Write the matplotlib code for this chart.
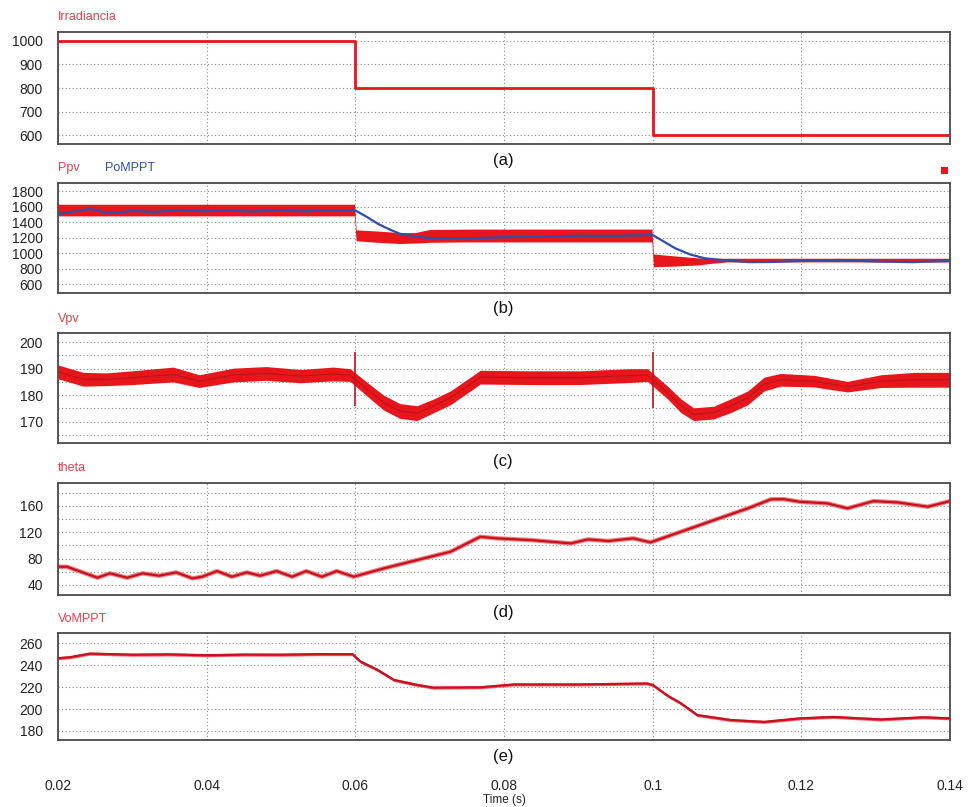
import matplotlib
matplotlib.use("Agg")
import matplotlib.pyplot as plt
from matplotlib.patches import Rectangle
import numpy as np

plt.rcParams['font.family'] = ['Liberation Sans', 'DejaVu Sans']

RED = '#e8161b'
BLUE = '#2f4fa8'
LBL_RED = '#e2414a'
GRID = '#8a8a8a'

# ---------------- data ----------------
# (a) irradiance (step)
irr_t = [0.02, 0.06, 0.06, 0.10, 0.10, 0.14]
irr_v = [1000, 1000, 800, 800, 600, 600]

# (b) Ppv ripple envelope and PoMPPT
ppv_t = [0.02, 0.0599, 0.0601, 0.063, 0.066, 0.068, 0.070, 0.075, 0.0999, 0.1001, 0.103, 0.106, 0.108, 0.11, 0.14]
ppv_hi = [1630, 1630, 1300, 1285, 1265, 1265, 1305, 1310, 1310, 990, 965, 940, 935, 935, 935]
ppv_lo = [1480, 1480, 1160, 1140, 1125, 1130, 1140, 1145, 1145, 825, 835, 848, 870, 888, 888]

po_t = [0.02, 0.022, 0.0243, 0.027, 0.030, 0.033, 0.036, 0.040, 0.043, 0.046, 0.050,
        0.053, 0.056, 0.060, 0.0615, 0.063, 0.0645, 0.066, 0.068, 0.070, 0.075, 0.080,
        0.085, 0.090, 0.095, 0.100, 0.1015, 0.103, 0.105, 0.107, 0.110, 0.113, 0.116,
        0.120, 0.125, 0.130, 0.135, 0.14]
po_v = [1505, 1534, 1569, 1513, 1545, 1530, 1555, 1540, 1552, 1535, 1556,
        1538, 1552, 1550, 1470, 1380, 1310, 1250, 1215, 1195, 1192, 1205,
        1212, 1225, 1222, 1234, 1150, 1065, 985, 935, 905, 885, 887,
        900, 913, 893, 885, 900]

# (c) Vpv mean, ripple half width, spikes
vpv_t = [0.02, 0.0234, 0.0265, 0.030, 0.0355, 0.039, 0.0436, 0.048, 0.0526, 0.057,
         0.0593, 0.0616, 0.0638, 0.066, 0.0683, 0.0705, 0.0728, 0.0759, 0.0768,
         0.0836, 0.0903, 0.097, 0.0993, 0.102, 0.1038, 0.1055, 0.1082, 0.1105,
         0.1128, 0.115, 0.1172, 0.1217, 0.1262, 0.1307, 0.1352, 0.14]
vpv_v = [188.8, 186.0, 186.0, 186.6, 187.8, 185.3, 187.6, 188.2, 187.2, 188.0,
         187.6, 182.2, 177.2, 174.0, 173.2, 175.9, 179.0, 185.0, 186.8,
         186.6, 186.6, 187.4, 187.6, 181.0, 176.0, 172.8, 173.4, 176.0,
         179.0, 184.2, 185.8, 185.3, 183.2, 185.3, 185.8, 185.8]
vpv_r = [2.6, 2.6, 2.4, 2.6, 2.8, 2.4, 2.6, 2.6, 2.5, 2.6,
         2.4, 2.6, 2.8, 2.8, 2.8, 2.6, 2.6, 2.6, 2.6,
         2.6, 2.6, 2.6, 2.4, 2.4, 2.6, 2.4, 2.4, 2.6,
         2.6, 2.6, 2.4, 2.2, 2.0, 2.4, 2.8, 2.8]
spike_t = [0.06, 0.10]
spike_hi = [196.3, 196.3]
spike_lo = [176.0, 175.0]

# (d) theta
th_t = [0.02, 0.0212, 0.0253, 0.027, 0.0293, 0.0314, 0.0336, 0.0359, 0.0381, 0.0394,
        0.0414, 0.0434, 0.0454, 0.0472, 0.0494, 0.0515, 0.0534, 0.0555, 0.0575, 0.0598,
        0.0638, 0.0683, 0.0728, 0.0768, 0.0791, 0.0836, 0.089, 0.0913, 0.094, 0.0974,
        0.0997, 0.1038, 0.1082, 0.1128, 0.1159, 0.1176, 0.1198, 0.1235, 0.1262,
        0.1297, 0.1330, 0.1370, 0.14]
th_v = [67.6, 67.6, 51.0, 57.6, 51.0, 57.6, 54.0, 59.0, 50.0, 52.5,
        61.0, 52.5, 59.0, 54.0, 61.0, 52.5, 61.0, 52.5, 61.0, 52.5,
        65.0, 77.7, 90.3, 113.0, 110.6, 108.0, 103.0, 109.0, 106.6, 110.6,
        104.5, 120.6, 138.0, 156.0, 169.7, 170.0, 166.0, 163.6, 156.0,
        167.0, 165.0, 158.5, 167.0]

# (e) VoMPPT
vo_t = [0.02, 0.0216, 0.0243, 0.030, 0.035, 0.040, 0.045, 0.050, 0.055, 0.0596,
        0.0607, 0.063, 0.0652, 0.0683, 0.0705, 0.0768, 0.0813, 0.090, 0.0992,
        0.100, 0.102, 0.1038, 0.106, 0.1105, 0.115, 0.1198, 0.1243, 0.1307,
        0.1364, 0.14]
vo_v = [246.3, 247.2, 250.5, 249.5, 249.8, 249.0, 249.6, 249.5, 250.0, 250.0,
        243.2, 235.6, 226.5, 222.0, 219.5, 219.8, 222.4, 222.4, 223.3,
        222.0, 212.2, 205.2, 194.5, 190.0, 188.3, 191.5, 192.8, 190.5,
        192.5, 191.5]
vo_r = 1.4

x_ticks = [0.02, 0.04, 0.06, 0.08, 0.10, 0.12, 0.14]
x_ticklabels = ['0.02', '0.04', '0.06', '0.08', '0.1', '0.12', '0.14']

# ---------------- figure ----------------
W, H = 968, 807
fig = plt.figure(figsize=(W / 100, H / 100), dpi=100)

def frac(top, bottom):
    return [58 / W, 1 - bottom / H, (950 - 58) / W, (bottom - top) / H]

panels = [
    dict(box=frac(32, 144), ylim=(562, 1038), yt=[600, 700, 800, 900, 1000], ym=[]),
    dict(box=frac(182.7, 293), ylim=(488, 1907), yt=[600, 800, 1000, 1200, 1400, 1600, 1800], ym=[]),
    dict(box=frac(332.7, 443.3), ylim=(161.8, 203.6), yt=[170, 180, 190, 200], ym=[165, 175, 185, 195]),
    dict(box=frac(483.3, 595), ylim=(24.8, 194), yt=[40, 80, 120, 160], ym=[60, 100, 140, 180]),
    dict(box=frac(633.3, 740), ylim=(171.8, 269), yt=[180, 200, 220, 240, 260], ym=[]),
]

axes = []
for i, p in enumerate(panels):
    ax = fig.add_axes(p['box'])
    ax.set_xlim(0.02, 0.14)
    ax.set_ylim(*p['ylim'])
    ax.set_yticks(p['yt'])
    ax.set_yticks(p['ym'], minor=True)
    ax.set_xticks(x_ticks)
    ax.set_xticklabels(x_ticklabels)
    ax.tick_params(axis='both', which='both', length=0)
    ax.tick_params(axis='y', labelsize=10, pad=11, labelcolor='#222222')
    ax.tick_params(axis='x', labelsize=10, pad=28, labelcolor='#222222')
    if i < 4:
        ax.tick_params(axis='x', labelbottom=False)
    ax.grid(True, which='both', color=GRID, linestyle=(0, (1, 2.2)), linewidth=0.8)
    ax.set_axisbelow(True)
    for s in ax.spines.values():
        s.set_color('#4a4a4a')
        s.set_linewidth(1.3)
    axes.append(ax)

ax_a, ax_b, ax_c, ax_d, ax_e = axes

# (a)
ax_a.plot(irr_t, irr_v, color=RED, lw=2.0, zorder=3)

# (b)
ax_b.fill_between(ppv_t, ppv_lo, ppv_hi, color=RED, lw=0, zorder=2)
ax_b.plot(po_t, po_v, color=BLUE, lw=1.6, zorder=3)

# (c)
vpv_lo = [m - r for m, r in zip(vpv_v, vpv_r)]
vpv_hi = [m + r for m, r in zip(vpv_v, vpv_r)]
ax_c.fill_between(vpv_t, vpv_lo, vpv_hi, color=RED, lw=0, zorder=2)
ax_c.plot(vpv_t, vpv_v, color='#b8141a', lw=0.8, zorder=3)
ax_c.vlines(spike_t, spike_lo, spike_hi, color='#c0151b', lw=1.2, zorder=3)

# (d)
ax_d.plot(th_t, th_v, color='#f08080', lw=3.2, zorder=2)
ax_d.plot(th_t, th_v, color='#c8101e', lw=1.6, zorder=3)

# (e)
ax_e.fill_between(vo_t, [v - vo_r for v in vo_v], [v + vo_r for v in vo_v],
                  color='#f06060', lw=0, zorder=2)
ax_e.plot(vo_t, vo_v, color='#c8101e', lw=1.6, zorder=3)

# titles
def ftxt(x, y, s, **kw):
    fig.text(x / W, 1 - y / H, s, **kw)

ftxt(58, 16.5, 'Irradiancia', color=LBL_RED, fontsize=9, va='center')
ftxt(58, 168, 'Ppv', color=LBL_RED, fontsize=9, va='center')
ftxt(105, 168, 'PoMPPT', color=BLUE, fontsize=9, va='center')
ftxt(58, 319, 'Vpv', color=LBL_RED, fontsize=9, va='center')
ftxt(58, 468, 'theta', color=LBL_RED, fontsize=9, va='center')
ftxt(58, 619, 'VoMPPT', color=LBL_RED, fontsize=9, va='center')
ftxt(504, 800.5, 'Time (s)', color='#222222', fontsize=8.5, ha='center', va='center')

for lab, y in [('(a)', 160), ('(b)', 308), ('(c)', 462), ('(d)', 612), ('(e)', 757)]:
    ftxt(503, y, lab, color='#111111', fontsize=12, ha='center', va='center')

fig.patches.append(Rectangle((941 / W, 1 - 174 / H), 7 / W, 7 / H,
                             transform=fig.transFigure, facecolor=RED, edgecolor='none'))

fig.savefig('out.png', dpi=100, facecolor='white')
